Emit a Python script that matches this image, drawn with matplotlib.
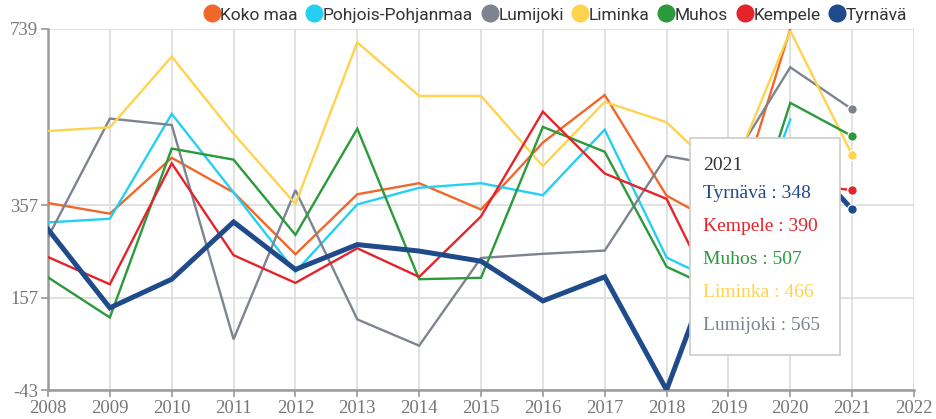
import numpy as np
import matplotlib.pyplot as plt
from matplotlib.lines import Line2D
from matplotlib.patches import Rectangle

plt.rcParams['axes.unicode_minus'] = False

nan = np.nan
years = list(range(2008, 2022))

koko_maa = [362, 339, 460, 385, 251, 381, 405, 348, 493, 596, 378, 305, 739, nan]
pohjois_pohjanmaa = [320, 328, 555, 385, 213, 359, 395, 405, 379, 521, 244, 180, 543, nan]
lumijoki = [288, 545, 531, 67, 390, 110, 53, 243, 252, 259, 464, 440, 656, 565]
liminka = [518, 526, 679, 512, 360, 710, 594, 594, 442, 581, 537, 410, 735, 466]
muhos = [201, 114, 480, 456, 293, 523, 197, 200, 527, 473, 224, 162, 579, 507]
kempele = [245, 186, 448, 249, 189, 264, 202, 333, 560, 426, 371, 100, 405, 390]
tyrnava = [305, 135, 197, 321, 218, 272, 258, 236, 150, 202, -43, 317, 495, 348]

names = ['Koko maa', 'Pohjois-Pohjanmaa', 'Lumijoki', 'Liminka', 'Muhos', 'Kempele', 'Tyrnävä']
series = [koko_maa, pohjois_pohjanmaa, lumijoki, liminka, muhos, kempele, tyrnava]
colors = ['#f0672a', '#25cff2', '#7d8490', '#ffd34e', '#2a9a3b', '#e3242b', '#1f4b8a']

y_ticks = [-43, 157, 357, 739]
tooltip_year = 2021
tooltip_order = ['Tyrnävä', 'Kempele', 'Muhos', 'Liminka', 'Lumijoki']

W, H = 937, 419
fig = plt.figure(figsize=(W / 100, H / 100), dpi=100)
ax = fig.add_axes([48 / W, 1 - 390 / H, (914 - 48) / W, (390 - 29) / H])

for name, vals, c in zip(names, series, colors):
    lw = 3.6 if name == 'Tyrnävä' else 1.7
    ax.plot(years, vals, color=c, lw=lw, solid_joinstyle='miter', zorder=3)
    last = vals[-1]
    if not np.isnan(last):
        ax.plot(years[-1], last, 'o', color=c, ms=7, mec='white', mew=1, zorder=4)

ax.set_xlim(2008, 2022)
ax.set_ylim(-43, 739)
ax.set_xticks(range(2008, 2023))
ax.set_yticks(y_ticks)
ax.grid(True, color='#dcdcdc', lw=1.2)
ax.set_axisbelow(True)
for s in ['top', 'right']:
    ax.spines[s].set_visible(False)
for s in ['left', 'bottom']:
    ax.spines[s].set_color('#999999')
    ax.spines[s].set_linewidth(1.8)
ax.tick_params(colors='#999999', length=5, width=1.2, labelcolor='#777777',
               labelsize=13.5, pad=2)
for lab in ax.get_xticklabels() + ax.get_yticklabels():
    lab.set_fontfamily('Liberation Serif')

handles = [Line2D([], [], marker='o', ls='none', color=c, ms=12) for c in colors]
fig.legend(handles, names, loc='center right', bbox_to_anchor=(907 / W, 1 - 15 / H),
           ncol=7, frameon=False, handletextpad=0.0, columnspacing=0.45,
           handlelength=1.0, borderaxespad=0, borderpad=0,
           prop={'family': 'Roboto', 'size': 12.5}, labelcolor='#333333')

# tooltip
x0, y0, x1, y1 = 690, 138, 840, 355
fig.add_artist(Rectangle((x0 / W, 1 - y1 / H), (x1 - x0) / W, (y1 - y0) / H,
                         transform=fig.transFigure, facecolor='white',
                         edgecolor='#cccccc', lw=1.2, zorder=10))
fig.text(703 / W, 1 - 165 / H, str(tooltip_year), color='#333333',
         family='Liberation Serif', fontsize=14, va='center', zorder=11)
idx = years.index(tooltip_year)
for i, nm in enumerate(tooltip_order):
    k = names.index(nm)
    fig.text(703 / W, 1 - (193 + 33 * i) / H, f'{nm} : {int(series[k][idx])}',
             color=colors[k], family='Liberation Serif', fontsize=14,
             va='center', zorder=11)

fig.savefig('out.png', dpi=100)
